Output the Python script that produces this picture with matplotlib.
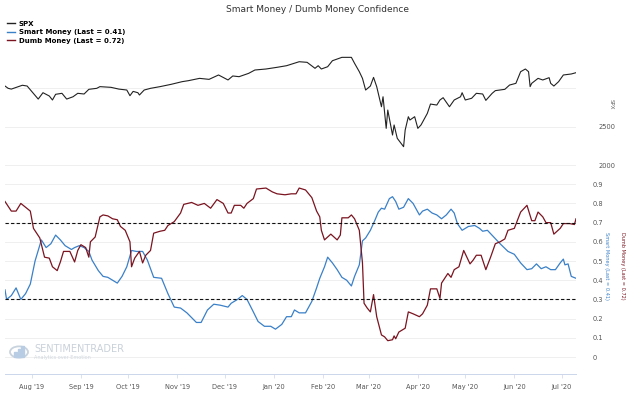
import matplotlib
matplotlib.use("Agg")
import matplotlib.pyplot as plt
import pandas as pd

# S&P 500 close
spx_dates = ["2019-07-15", "2019-07-17", "2019-07-19", "2019-07-24", "2019-07-26", "2019-07-29",
             "2019-08-01", "2019-08-05", "2019-08-08", "2019-08-12", "2019-08-14", "2019-08-16",
             "2019-08-20", "2019-08-23", "2019-08-27", "2019-08-30", "2019-09-03", "2019-09-06",
             "2019-09-11", "2019-09-13", "2019-09-20", "2019-09-25", "2019-09-30", "2019-10-02",
             "2019-10-04", "2019-10-07", "2019-10-08", "2019-10-11", "2019-10-15", "2019-10-21",
             "2019-10-28", "2019-11-04", "2019-11-08", "2019-11-15", "2019-11-21", "2019-11-27",
             "2019-12-03", "2019-12-06", "2019-12-10", "2019-12-16", "2019-12-20", "2019-12-27",
             "2020-01-03", "2020-01-09", "2020-01-17", "2020-01-22", "2020-01-27", "2020-01-29",
             "2020-01-31", "2020-02-04", "2020-02-07", "2020-02-13", "2020-02-19", "2020-02-21",
             "2020-02-24", "2020-02-26", "2020-02-28", "2020-03-02", "2020-03-03", "2020-03-04",
             "2020-03-06", "2020-03-09", "2020-03-10", "2020-03-12", "2020-03-13", "2020-03-16",
             "2020-03-17", "2020-03-19", "2020-03-23", "2020-03-24", "2020-03-26", "2020-03-27",
             "2020-03-30", "2020-04-01", "2020-04-03", "2020-04-07", "2020-04-09", "2020-04-13",
             "2020-04-15", "2020-04-17", "2020-04-21", "2020-04-24", "2020-04-28", "2020-04-29",
             "2020-05-01", "2020-05-05", "2020-05-08", "2020-05-12", "2020-05-14", "2020-05-18",
             "2020-05-20", "2020-05-26", "2020-05-29", "2020-06-02", "2020-06-05", "2020-06-08",
             "2020-06-10", "2020-06-11", "2020-06-12", "2020-06-16", "2020-06-19", "2020-06-23",
             "2020-06-24", "2020-06-26", "2020-06-29", "2020-07-02", "2020-07-07", "2020-07-10"]
spx = [3030, 3000, 2990, 3026, 3040, 3030,
       2957, 2860, 2943, 2900, 2848, 2922,
       2935, 2860, 2890, 2935, 2926, 2987,
       3000, 3022, 3013, 2990, 2978, 2904,
       2960, 2943, 2913, 2978, 3000, 3022,
       3052, 3087, 3100, 3130, 3117, 3174,
       3109, 3161, 3152, 3195, 3239, 3252,
       3274, 3295, 3347, 3339, 3261, 3295,
       3252, 3282, 3360, 3404, 3404, 3326,
       3217, 3130, 2978, 3030, 3087, 3143,
       3022, 2760, 2890, 2478, 2717, 2391,
       2522, 2348, 2239, 2456, 2630, 2587,
       2630, 2478, 2522, 2673, 2795, 2782,
       2848, 2878, 2760, 2848, 2890, 2943,
       2848, 2870, 2935, 2926, 2843, 2935,
       2970, 2987, 3043, 3065, 3217, 3252,
       3217, 3022, 3065, 3130, 3109, 3139,
       3065, 3030, 3087, 3174, 3187, 3204]

smart_dates = ["2019-07-15", "2019-07-16", "2019-07-19", "2019-07-22", "2019-07-25", "2019-07-28",
               "2019-07-31", "2019-08-03", "2019-08-07", "2019-08-10", "2019-08-13", "2019-08-16",
               "2019-08-19", "2019-08-22", "2019-08-26", "2019-08-28", "2019-08-31", "2019-09-03",
               "2019-09-06", "2019-09-08", "2019-09-12", "2019-09-15", "2019-09-18", "2019-09-21",
               "2019-09-24", "2019-09-27", "2019-09-30", "2019-10-03", "2019-10-06", "2019-10-10",
               "2019-10-13", "2019-10-17", "2019-10-22", "2019-10-26", "2019-10-30", "2019-11-03",
               "2019-11-07", "2019-11-13", "2019-11-16", "2019-11-20", "2019-11-24", "2019-11-28",
               "2019-12-03", "2019-12-05", "2019-12-09", "2019-12-12", "2019-12-15", "2019-12-19",
               "2019-12-22", "2019-12-26", "2019-12-30", "2020-01-02", "2020-01-06", "2020-01-09",
               "2020-01-12", "2020-01-14", "2020-01-17", "2020-01-21", "2020-01-25", "2020-01-28",
               "2020-01-30", "2020-02-02", "2020-02-04", "2020-02-07", "2020-02-10", "2020-02-13",
               "2020-02-16", "2020-02-19", "2020-02-21", "2020-02-24", "2020-02-26", "2020-02-28",
               "2020-03-02", "2020-03-05", "2020-03-07", "2020-03-09", "2020-03-11", "2020-03-14",
               "2020-03-16", "2020-03-18", "2020-03-20", "2020-03-23", "2020-03-26", "2020-03-29",
               "2020-03-31", "2020-04-02", "2020-04-04", "2020-04-07", "2020-04-10", "2020-04-13",
               "2020-04-16", "2020-04-19", "2020-04-22", "2020-04-24", "2020-04-26", "2020-04-29",
               "2020-05-03", "2020-05-07", "2020-05-10", "2020-05-12", "2020-05-15", "2020-05-19",
               "2020-05-23", "2020-05-28", "2020-06-01", "2020-06-05", "2020-06-09", "2020-06-12",
               "2020-06-15", "2020-06-18", "2020-06-21", "2020-06-24", "2020-06-27", "2020-06-30",
               "2020-07-02", "2020-07-03", "2020-07-05", "2020-07-07", "2020-07-10"]
smart = [0.35, 0.30, 0.32, 0.36, 0.30, 0.33,
         0.38, 0.50, 0.61, 0.57, 0.59, 0.635,
         0.61, 0.58, 0.56, 0.57, 0.58, 0.57,
         0.55, 0.505, 0.45, 0.42, 0.415, 0.40,
         0.385, 0.42, 0.47, 0.555, 0.55, 0.55,
         0.505, 0.415, 0.41, 0.33, 0.26, 0.255,
         0.23, 0.18, 0.18, 0.245, 0.275, 0.27,
         0.26, 0.28, 0.30, 0.32, 0.30, 0.235,
         0.185, 0.16, 0.16, 0.145, 0.17, 0.21,
         0.21, 0.245, 0.23, 0.23, 0.29, 0.36,
         0.41, 0.47, 0.52, 0.49, 0.455, 0.415,
         0.40, 0.37, 0.42, 0.48, 0.605, 0.62,
         0.66, 0.715, 0.755, 0.775, 0.77, 0.825,
         0.835, 0.81, 0.77, 0.78, 0.825, 0.80,
         0.77, 0.74, 0.76, 0.77, 0.75, 0.74,
         0.72, 0.74, 0.77, 0.75, 0.695, 0.66,
         0.68, 0.685, 0.67, 0.655, 0.66, 0.625,
         0.59, 0.55, 0.535, 0.49, 0.455, 0.46,
         0.485, 0.46, 0.47, 0.455, 0.455, 0.49,
         0.51, 0.48, 0.485, 0.42, 0.41]

dumb_dates = ["2019-07-15", "2019-07-19", "2019-07-22", "2019-07-25", "2019-07-28", "2019-07-31",
              "2019-08-02", "2019-08-06", "2019-08-09", "2019-08-12", "2019-08-14", "2019-08-17",
              "2019-08-19", "2019-08-21", "2019-08-25", "2019-08-28", "2019-08-30", "2019-09-01",
              "2019-09-04", "2019-09-06", "2019-09-07", "2019-09-10", "2019-09-13", "2019-09-15",
              "2019-09-18", "2019-09-21", "2019-09-24", "2019-09-26", "2019-09-29", "2019-10-02",
              "2019-10-03", "2019-10-05", "2019-10-08", "2019-10-10", "2019-10-12", "2019-10-15",
              "2019-10-17", "2019-10-21", "2019-10-24", "2019-10-26", "2019-10-30", "2019-11-03",
              "2019-11-05", "2019-11-10", "2019-11-14", "2019-11-18", "2019-11-22", "2019-11-26",
              "2019-11-30", "2019-12-03", "2019-12-05", "2019-12-07", "2019-12-11", "2019-12-13",
              "2019-12-15", "2019-12-19", "2019-12-21", "2019-12-27", "2019-12-31", "2020-01-03",
              "2020-01-08", "2020-01-12", "2020-01-15", "2020-01-17", "2020-01-21", "2020-01-25",
              "2020-01-28", "2020-01-30", "2020-01-31", "2020-02-02", "2020-02-06", "2020-02-10",
              "2020-02-12", "2020-02-13", "2020-02-17", "2020-02-19", "2020-02-21", "2020-02-24",
              "2020-02-26", "2020-02-27", "2020-02-29", "2020-03-02", "2020-03-04", "2020-03-06",
              "2020-03-09", "2020-03-11", "2020-03-13", "2020-03-16", "2020-03-17", "2020-03-18",
              "2020-03-20", "2020-03-22", "2020-03-24", "2020-03-26", "2020-03-29", "2020-04-02",
              "2020-04-04", "2020-04-07", "2020-04-09", "2020-04-13", "2020-04-15", "2020-04-16",
              "2020-04-20", "2020-04-22", "2020-04-24", "2020-04-27", "2020-04-30", "2020-05-04",
              "2020-05-06", "2020-05-08", "2020-05-11", "2020-05-14", "2020-05-17", "2020-05-20",
              "2020-05-23", "2020-05-26", "2020-05-28", "2020-06-01", "2020-06-05", "2020-06-09",
              "2020-06-12", "2020-06-14", "2020-06-16", "2020-06-19", "2020-06-21", "2020-06-24",
              "2020-06-26", "2020-06-30", "2020-07-02", "2020-07-06", "2020-07-09", "2020-07-10"]
dumb = [0.81, 0.76, 0.76, 0.80, 0.78, 0.76,
        0.67, 0.62, 0.52, 0.515, 0.47, 0.45,
        0.495, 0.55, 0.55, 0.495, 0.555, 0.585,
        0.57, 0.52, 0.60, 0.625, 0.73, 0.74,
        0.735, 0.72, 0.715, 0.68, 0.66, 0.60,
        0.47, 0.515, 0.55, 0.49, 0.53, 0.555,
        0.645, 0.655, 0.66, 0.685, 0.705, 0.75,
        0.795, 0.805, 0.79, 0.80, 0.775, 0.82,
        0.80, 0.75, 0.75, 0.79, 0.79, 0.775,
        0.80, 0.825, 0.875, 0.88, 0.86, 0.85,
        0.845, 0.85, 0.85, 0.88, 0.87, 0.83,
        0.76, 0.73, 0.66, 0.61, 0.64, 0.61,
        0.635, 0.725, 0.725, 0.74, 0.72, 0.66,
        0.49, 0.28, 0.255, 0.235, 0.325, 0.21,
        0.115, 0.105, 0.085, 0.09, 0.11, 0.095,
        0.13, 0.14, 0.15, 0.235, 0.225, 0.21,
        0.225, 0.27, 0.355, 0.355, 0.305, 0.385,
        0.435, 0.415, 0.455, 0.47, 0.555, 0.485,
        0.505, 0.53, 0.53, 0.455, 0.52, 0.59,
        0.60, 0.615, 0.66, 0.67, 0.755, 0.79,
        0.71, 0.71, 0.755, 0.73, 0.70, 0.70,
        0.64, 0.67, 0.695, 0.695, 0.69, 0.72]

month_ticks = ["2019-08-01", "2019-09-01", "2019-10-01", "2019-11-01", "2019-12-01", "2020-01-01",
               "2020-02-01", "2020-03-01", "2020-04-01", "2020-05-01", "2020-06-01", "2020-07-01"]
month_labels = ["Aug '19", "Sep '19", "Oct '19", "Nov '19", "Dec '19", "Jan '20",
                "Feb '20", "Mar '20", "Apr '20", "May '20", "Jun '20", "Jul '20"]

spx_color = "#222222"
smart_color = "#3a80c8"
dumb_color = "#7a1420"
grid_color = "#ececec"
tick_color = "#555555"

W, H = 630, 394
fig = plt.figure(figsize=(W / 100, H / 100), dpi=100)

left = 5 / W
width = 571 / W
ax1 = fig.add_axes([left, 1 - 172 / H, width, 127 / H])
ax2 = fig.add_axes([left, 1 - 374 / H, width, 199 / H])

xmin = pd.Timestamp("2019-07-15")
xmax = pd.Timestamp("2020-07-10")

# top panel: SPX
ax1.plot(pd.to_datetime(spx_dates), spx, color=spx_color, lw=0.8)
ax1.set_xlim(xmin, xmax)
ax1.set_ylim(1909, 3565)
ax1.set_yticks([2000, 2500, 3000])
ax1.set_yticklabels(["2000", "2500", ""])
ax1.yaxis.tick_right()
ax1.tick_params(axis="y", length=0, pad=16, labelsize=4.8, labelcolor=tick_color)
ax1.set_xticks([])
ax1.grid(axis="y", color=grid_color, lw=0.6)
for s in ax1.spines.values():
    s.set_visible(False)
ax1.set_axisbelow(True)

# bottom panel: confidence
ax2.plot(pd.to_datetime(smart_dates), smart, color=smart_color, lw=0.9)
ax2.plot(pd.to_datetime(dumb_dates), dumb, color=dumb_color, lw=0.9)
ax2.axhline(0.7, color="#111111", lw=0.8, ls=(0, (3, 2)))
ax2.axhline(0.3, color="#111111", lw=0.8, ls=(0, (3, 2)))
ax2.set_xlim(xmin, xmax)
ax2.set_ylim(-0.0885, 0.948)
ax2.set_yticks([i / 10 for i in range(10)])
ax2.set_yticklabels(["0"] + ["0.%d" % i for i in range(1, 10)])
ax2.yaxis.tick_right()
ax2.tick_params(axis="y", length=0, pad=12, labelsize=4.8, labelcolor=tick_color)
ax2.grid(axis="y", color=grid_color, lw=0.6)
ax2.set_xticks(pd.to_datetime(month_ticks))
ax2.set_xticklabels(month_labels)
ax2.tick_params(axis="x", length=3, width=0.5, color="#ccd6eb", pad=4,
                labelsize=4.8, labelcolor=tick_color)
for k, s in ax2.spines.items():
    s.set_visible(k == "bottom")
ax2.spines["bottom"].set_color("#ccd6eb")
ax2.spines["bottom"].set_linewidth(0.7)
ax2.set_axisbelow(True)

# titles and side labels
fig.text(318 / W, 1 - 9 / H, "Smart Money / Dumb Money Confidence", ha="center", va="center",
         fontsize=6.5, color="#333333")
fig.text(611 / W, 1 - 104 / H, "SPX", rotation=270, ha="center", va="center",
         fontsize=4, color="#666666")
fig.text(607 / W, 1 - 232 / H, "Smart Money (Last = 0.41)", rotation=270, ha="center", va="top",
         fontsize=3.6, color=smart_color)
fig.text(623 / W, 1 - 232 / H, "Dumb Money (Last = 0.72)", rotation=270, ha="center", va="top",
         fontsize=3.6, color=dumb_color)

# legend
handles = [plt.Line2D([], [], color=spx_color, lw=1),
           plt.Line2D([], [], color=smart_color, lw=1),
           plt.Line2D([], [], color=dumb_color, lw=1)]
fig.legend(handles, ["SPX", "Smart Money (Last = 0.41)", "Dumb Money (Last = 0.72)"],
           loc="upper left", bbox_to_anchor=(2 / W, 1 - 16 / H), frameon=False,
           prop={"size": 5, "weight": "bold"}, handlelength=1.1, handletextpad=0.6,
           labelspacing=0.35, borderpad=0.2)

# watermark
fig.text(34 / W, 1 - 349 / H, "SENTIMENTRADER", fontsize=7, color="#c9d1da",
         ha="left", va="center")
fig.text(34 / W, 1 - 358 / H, "Analytics over Emotion", fontsize=3.5, color="#d2d8df",
         ha="left", va="center")
fig.patches.append(plt.Circle((19 / W, 1 - 352 / H), 9 / W, transform=fig.transFigure,
                              fill=False, ec="#c9d3de", lw=1.3))
for i, hgt in enumerate([5, 8, 11]):
    fig.patches.append(plt.Rectangle(((14 + i * 3.5) / W, 1 - 357 / H), 2.5 / W, hgt / H,
                                     transform=fig.transFigure, color="#b8cde3"))

fig.savefig("out.png", dpi=100)
